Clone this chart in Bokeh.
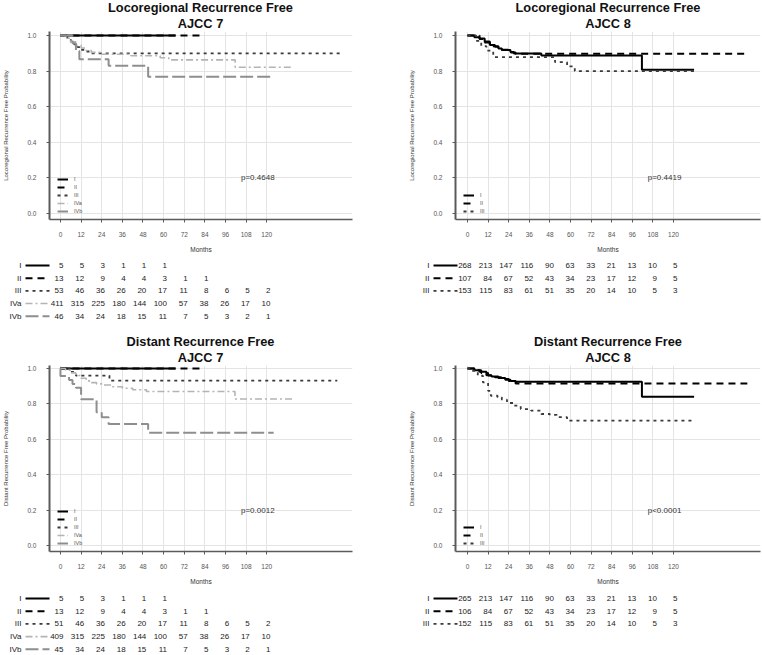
from bokeh.plotting import figure
from bokeh.models import Range1d, FixedTicker, PrintfTickFormatter, ColumnDataSource
from bokeh.layouts import column, row
from bokeh.core.properties import value
from bokeh.embed import file_html
from bokeh.resources import INLINE

# ---------------- data ----------------
MONTHS = [0, 12, 24, 36, 48, 60, 72, 84, 96, 108, 120]
Y_TICKS = [0.0, 0.2, 0.4, 0.6, 0.8, 1.0]

# Panel A: Locoregional Recurrence Free, AJCC 7
lrf7_title = ["Locoregional Recurrence Free", "AJCC 7"]
lrf7_ylabel = "Locoregional Recurrence Free Probability"
lrf7_stages = ["I", "II", "III", "IVa", "IVb"]
lrf7_I_t = [0, 67]
lrf7_I_s = [1.0, 1.0]
lrf7_II_t = [0, 82]
lrf7_II_s = [1.0, 1.0]
lrf7_III_t = [0, 4, 6, 8, 10, 12, 14, 17, 163]
lrf7_III_s = [1.0, 0.98, 0.965, 0.95, 0.935, 0.92, 0.91, 0.9, 0.9]
lrf7_IVa_t = [0, 3, 6, 9, 12, 15, 18, 24, 41, 58, 63, 101.6, 135]
lrf7_IVa_s = [1.0, 0.985, 0.965, 0.945, 0.93, 0.915, 0.905, 0.895, 0.886, 0.875, 0.863, 0.822, 0.822]
lrf7_IVb_t = [0, 7, 9, 11, 28, 51, 124]
lrf7_IVb_s = [1.0, 0.957, 0.913, 0.867, 0.830, 0.768, 0.768]
lrf7_pval = "p=0.4648"
lrf7_risk_I = [5, 5, 3, 1, 1, 1]
lrf7_risk_II = [13, 12, 9, 4, 4, 3, 1, 1]
lrf7_risk_III = [53, 46, 36, 26, 20, 17, 11, 8, 6, 5, 2]
lrf7_risk_IVa = [411, 315, 225, 180, 144, 100, 57, 38, 26, 17, 10]
lrf7_risk_IVb = [46, 34, 24, 18, 15, 11, 7, 5, 3, 2, 1]

# Panel B: Locoregional Recurrence Free, AJCC 8
lrf8_title = ["Locoregional Recurrence Free", "AJCC 8"]
lrf8_ylabel = "Locoregional Recurrence Free Probability"
lrf8_stages = ["I", "II", "III"]
lrf8_I_t = [0, 4, 7, 10, 13, 16, 18, 20, 25, 27, 43, 101.6, 132]
lrf8_I_s = [1.0, 0.99, 0.983, 0.966, 0.947, 0.937, 0.927, 0.918, 0.908, 0.899, 0.888, 0.807, 0.807]
lrf8_II_t = [0, 7, 10, 13, 18, 24, 28, 163]
lrf8_II_s = [1.0, 0.98, 0.96, 0.94, 0.92, 0.905, 0.897, 0.897]
lrf8_III_t = [0, 5, 8, 11, 15, 51, 58, 62.5, 132]
lrf8_III_s = [1.0, 0.97, 0.94, 0.915, 0.879, 0.85, 0.826, 0.80, 0.80]
lrf8_pval = "p=0.4419"
lrf8_risk_I = [268, 213, 147, 116, 90, 63, 33, 21, 13, 10, 5]
lrf8_risk_II = [107, 84, 67, 52, 43, 34, 23, 17, 12, 9, 5]
lrf8_risk_III = [153, 115, 83, 61, 51, 35, 20, 14, 10, 5, 3]

# Panel C: Distant Recurrence Free, AJCC 7
drf7_title = ["Distant Recurrence Free", "AJCC 7"]
drf7_ylabel = "Distant Recurrence Free Probability"
drf7_stages = ["I", "II", "III", "IVa", "IVb"]
drf7_I_t = [0, 67]
drf7_I_s = [1.0, 1.0]
drf7_II_t = [0, 82]
drf7_II_s = [1.0, 1.0]
drf7_III_t = [0, 6, 9, 28.5, 161]
drf7_III_s = [1.0, 0.98, 0.96, 0.931, 0.931]
drf7_IVa_t = [0, 3, 6, 9, 12, 15, 18, 21, 24, 30, 36, 42, 50, 101.5, 135]
drf7_IVa_s = [1.0, 0.99, 0.975, 0.96, 0.945, 0.93, 0.92, 0.913, 0.907, 0.897, 0.888, 0.88, 0.87, 0.828, 0.828]
drf7_IVb_t = [0, 0, 5, 7, 9, 12, 21, 24, 28, 51, 124]
drf7_IVb_s = [1.0, 0.957, 0.935, 0.913, 0.891, 0.826, 0.753, 0.725, 0.687, 0.637, 0.637]
drf7_pval = "p=0.0012"
drf7_risk_I = [5, 5, 3, 1, 1, 1]
drf7_risk_II = [13, 12, 9, 4, 4, 3, 1, 1]
drf7_risk_III = [51, 46, 36, 26, 20, 17, 11, 8, 6, 5, 2]
drf7_risk_IVa = [409, 315, 225, 180, 144, 100, 57, 38, 26, 17, 10]
drf7_risk_IVb = [45, 34, 24, 18, 15, 11, 7, 5, 3, 2, 1]

# Panel D: Distant Recurrence Free, AJCC 8
drf8_title = ["Distant Recurrence Free", "AJCC 8"]
drf8_ylabel = "Distant Recurrence Free Probability"
drf8_stages = ["I", "II", "III"]
drf8_I_t = [0, 4, 7, 11, 14, 18, 22, 25, 28, 101.6, 132]
drf8_I_s = [1.0, 0.99, 0.981, 0.962, 0.955, 0.946, 0.936, 0.93, 0.925, 0.841, 0.841]
drf8_II_t = [0, 5, 8, 12, 16, 20, 24, 28, 163]
drf8_II_s = [1.0, 0.99, 0.975, 0.96, 0.95, 0.94, 0.93, 0.915, 0.915]
drf8_III_t = [0, 1, 6, 9, 12, 13.6, 17.5, 20, 23, 27, 31, 37, 43, 48, 52, 58, 132]
drf8_III_s = [1.0, 0.987, 0.959, 0.921, 0.874, 0.846, 0.837, 0.824, 0.805, 0.79, 0.771, 0.762, 0.743, 0.738, 0.725, 0.706, 0.706]
drf8_pval = "p<0.0001"
drf8_risk_I = [265, 213, 147, 116, 90, 63, 33, 21, 13, 10, 5]
drf8_risk_II = [106, 84, 67, 52, 43, 34, 23, 17, 12, 9, 5]
drf8_risk_III = [152, 115, 83, 61, 51, 35, 20, 14, 10, 5, 3]

# ---------------- styles / geometry ----------------
FONT = "Liberation Sans"
STYLE = {
    "I":   dict(line_color="#000000", line_width=2.0, line_dash="solid"),
    "II":  dict(line_color="#000000", line_width=2.0, line_dash="7 5"),
    "III": dict(line_color="#3a3a3a", line_width=1.8, line_dash="3 4"),
    "IVa": dict(line_color="#b4b4b4", line_width=1.6, line_dash="7 3 2 3"),
    "IVb": dict(line_color="#8e8e8e", line_width=2.0, line_dash="13 4"),
}
COL_W = 381
# column geometry: (frame left, frame width, month-0 position, px per month)
LEFT_COL = dict(left=48, frame_w=304, zero=59, ppm=1.725)
RIGHT_COL = dict(left=74, frame_w=305, zero=86, ppm=1.7167)
PX_PER_UNIT = 178.0
S_BOT = -6 / PX_PER_UNIT


def bare(w, h, xr, yr):
    p = figure(width=w, height=h, x_range=xr, y_range=yr, output_backend="svg",
               toolbar_location=None, min_border=0, x_axis_location=None, y_axis_location=None)
    p.grid.visible = False
    p.outline_line_color = None
    return p


def title_figure(lines, geo, h, y_first, y_step):
    p = bare(COL_W, h, Range1d(0, COL_W), Range1d(h, 0))
    cx = geo["left"] + geo["frame_w"] / 2.0
    p.text(x=[cx] * len(lines), y=[y_first + i * y_step for i in range(len(lines))], text=lines,
           text_align="center", text_baseline="middle", text_font=value(FONT),
           text_font_size="12.8px", text_font_style="bold", text_color="#111111")
    return p


def km_figure(ylabel, stages, times, survs, pval, geo, h, bottom_b, top_gap):
    x0 = (geo["left"] - geo["zero"]) / geo["ppm"]
    x1 = x0 + geo["frame_w"] / geo["ppm"]
    s_top = 1.0 + top_gap / PX_PER_UNIT
    p = figure(width=COL_W, height=h, x_range=Range1d(x0, x1), y_range=Range1d(S_BOT, s_top),
               output_backend="svg", toolbar_location=None,
               min_border_left=geo["left"], min_border_right=COL_W - geo["left"] - geo["frame_w"],
               min_border_top=0, min_border_bottom=bottom_b)
    p.outline_line_color = None
    p.background_fill_color = "white"
    p.border_fill_color = "white"
    for g in (p.xgrid, p.ygrid):
        g.grid_line_color = "#e4e4e4"
        g.grid_line_width = 1
    p.xgrid.ticker = FixedTicker(ticks=MONTHS)
    p.ygrid.ticker = FixedTicker(ticks=Y_TICKS)
    xa, ya = p.xaxis[0], p.yaxis[0]
    xa.ticker = FixedTicker(ticks=MONTHS)
    ya.ticker = FixedTicker(ticks=Y_TICKS)
    ya.formatter = PrintfTickFormatter(format="%.1f")
    for ax in (xa, ya):
        ax.axis_line_color = "#5a5a5a"
        ax.major_tick_line_color = "#5a5a5a"
        ax.major_tick_out = 3
        ax.major_tick_in = 0
        ax.minor_tick_line_color = None
        ax.major_label_text_font = FONT
        ax.major_label_text_font_size = "6.5px"
        ax.major_label_text_color = "#555555"
        ax.axis_label_text_font = FONT
        ax.axis_label_text_font_style = "normal"
        ax.axis_label_text_color = "#333333"
    xa.axis_line_width = 1.5
    ya.axis_line_width = 2
    xa.major_label_standoff = 9
    ya.major_label_standoff = 10
    xa.axis_label = "Months"
    xa.axis_label_text_font_size = "6.5px"
    xa.axis_label_standoff = 6
    ya.axis_label = ylabel
    ya.axis_label_text_font_size = "6px"
    ya.axis_label_standoff = 15

    for st, t, s in zip(stages, times, survs):
        p.step(x=t, y=s, mode="after", legend_label=st, **STYLE[st])

    lg = p.legend[0]
    lg.location = (8, 4)
    lg.label_text_font = FONT
    lg.label_text_font_size = "5.5px"
    lg.label_text_color = "#555555"
    lg.glyph_width = 11
    lg.glyph_height = 8
    lg.label_height = 8
    lg.label_standoff = 6
    lg.spacing = 0
    lg.padding = 0
    lg.margin = 0
    lg.border_line_color = None
    lg.background_fill_alpha = 0

    p.text(x=[105], y=[0.2], text=[pval], text_align="left", text_baseline="middle",
           text_font=value(FONT), text_font_size="8px", text_color="#333333")
    return p


def risk_figure(stages, counts, geo, h, row0, pitch):
    x0 = -geo["zero"] / geo["ppm"]
    x1 = x0 + COL_W / geo["ppm"]
    p = bare(COL_W, h, Range1d(x0, x1), Range1d((h - row0) / pitch, -row0 / pitch))
    for i, (st, cnts) in enumerate(zip(stages, counts)):
        src = ColumnDataSource(dict(x=MONTHS[:len(cnts)], y=[i] * len(cnts), t=[str(c) for c in cnts]))
        p.text(x="x", y="y", text="t", source=src, text_align="right", text_baseline="middle",
               x_offset=4, text_font=value(FONT), text_font_size="8px", text_color="#1a1a1a")
        p.segment(x0=[-34 / geo["ppm"]], y0=[i], x1=[-10 / geo["ppm"]], y1=[i], **STYLE[st])
    p.text(x=[0] * len(stages), y=list(range(len(stages))), text=stages, x_offset=-38,
           text_align="right", text_baseline="middle", text_font=value(FONT),
           text_font_size="8px", text_color="#1a1a1a")
    return p


# vertical geometry (px): title band, KM plot, risk table
TOP_TITLE_H, TOP_KM_H, TOP_RISK_H = 31, 224, 70
BOT_TITLE_H, BOT_KM_H, BOT_RISK_H = 40, 222, 68

t_tl = title_figure(lrf7_title, LEFT_COL, TOP_TITLE_H, 7, 16)
t_tr = title_figure(lrf8_title, RIGHT_COL, TOP_TITLE_H, 7, 16)
tl = km_figure(lrf7_ylabel, lrf7_stages, [lrf7_I_t, lrf7_II_t, lrf7_III_t, lrf7_IVa_t, lrf7_IVb_t],
               [lrf7_I_s, lrf7_II_s, lrf7_III_s, lrf7_IVa_s, lrf7_IVb_s], lrf7_pval,
               LEFT_COL, TOP_KM_H, 36, 4)
tr = km_figure(lrf8_ylabel, lrf8_stages, [lrf8_I_t, lrf8_II_t, lrf8_III_t],
               [lrf8_I_s, lrf8_II_s, lrf8_III_s], lrf8_pval, RIGHT_COL, TOP_KM_H, 36, 4)
r_tl = risk_figure(lrf7_stages, [lrf7_risk_I, lrf7_risk_II, lrf7_risk_III, lrf7_risk_IVa, lrf7_risk_IVb],
                   LEFT_COL, TOP_RISK_H, 10, 12.67)
r_tr = risk_figure(lrf8_stages, [lrf8_risk_I, lrf8_risk_II, lrf8_risk_III],
                   RIGHT_COL, TOP_RISK_H, 10, 12.67)

t_bl = title_figure(drf7_title, LEFT_COL, BOT_TITLE_H, 16, 16)
t_br = title_figure(drf8_title, RIGHT_COL, BOT_TITLE_H, 16, 16)
bl = km_figure(drf7_ylabel, drf7_stages, [drf7_I_t, drf7_II_t, drf7_III_t, drf7_IVa_t, drf7_IVb_t],
               [drf7_I_s, drf7_II_s, drf7_III_s, drf7_IVa_s, drf7_IVb_s], drf7_pval,
               LEFT_COL, BOT_KM_H, 35, 3)
br = km_figure(drf8_ylabel, drf8_stages, [drf8_I_t, drf8_II_t, drf8_III_t],
               [drf8_I_s, drf8_II_s, drf8_III_s], drf8_pval, RIGHT_COL, BOT_KM_H, 35, 3)
r_bl = risk_figure(drf7_stages, [drf7_risk_I, drf7_risk_II, drf7_risk_III, drf7_risk_IVa, drf7_risk_IVb],
                   LEFT_COL, BOT_RISK_H, 11, 12.7)
r_br = risk_figure(drf8_stages, [drf8_risk_I, drf8_risk_II, drf8_risk_III],
                   RIGHT_COL, BOT_RISK_H, 11, 12.7)

layout = column(row(t_tl, t_tr), row(tl, tr), row(r_tl, r_tr),
                row(t_bl, t_br), row(bl, br), row(r_bl, r_br))
open("out.html", "w").write(file_html(layout, INLINE))
